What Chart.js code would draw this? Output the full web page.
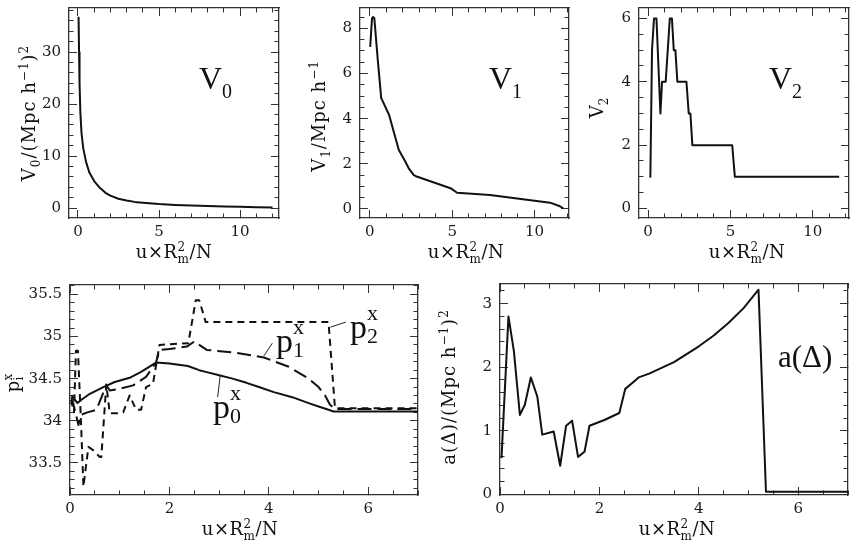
<!DOCTYPE html>
<html><head><meta charset="utf-8">
<script src="https://cdn.jsdelivr.net/npm/chart.js@4"></script>
</head><body style="margin:0;background:#fff">
<div style="position:absolute;left:0;top:0;width:290px;height:275px"><canvas id="c1"></canvas></div>
<div style="position:absolute;left:290px;top:0;width:290px;height:275px"><canvas id="c2"></canvas></div>
<div style="position:absolute;left:580px;top:0;width:279px;height:275px"><canvas id="c3"></canvas></div>
<div style="position:absolute;left:0;top:275px;width:430px;height:270px"><canvas id="c4"></canvas></div>
<div style="position:absolute;left:430px;top:275px;width:429px;height:270px"><canvas id="c5"></canvas></div>
<script>
// ---------------- data ----------------
const v0X = [0.04, 0.07, 0.1, 0.15, 0.22, 0.33, 0.5, 0.7, 1.0, 1.35, 1.7, 2.0, 2.5, 3.0, 3.5, 4.0, 5.0, 6.0, 7.0, 8.0, 9.0, 10.0, 11.0, 12.0];
const v0Y = [36.8, 30, 24, 18.5, 14.5, 11.5, 8.9, 6.9, 5.2, 3.9, 2.95, 2.4, 1.8, 1.45, 1.2, 1.05, 0.8, 0.62, 0.5, 0.4, 0.32, 0.25, 0.18, 0.12];

const v1X = [0.02, 0.13, 0.2, 0.27, 0.48, 0.69, 0.75, 1.17, 1.45, 1.76, 2.16, 2.36, 2.67, 2.8, 4.9, 5.3, 7.3, 9.3, 10.95, 11.55, 11.75];
const v1Y = [7.18, 8.45, 8.5, 8.45, 6.6, 4.9, 4.82, 4.16, 3.42, 2.61, 2.09, 1.8, 1.5, 1.45, 0.92, 0.72, 0.62, 0.43, 0.28, 0.12, 0.03];

const v2X = [0.08, 0.14, 0.24, 0.36, 0.51, 0.75, 0.85, 1.07, 1.32, 1.45, 1.56, 1.66, 1.78, 2.33, 2.47, 2.57, 2.69, 5.11, 5.27, 11.6];
const v2Y = [1, 1, 5, 6, 6, 3, 4, 4, 6, 6, 5, 5, 4, 4, 3, 3, 2, 2, 1, 1];

const p0X = [0.03, 0.15, 0.23, 0.4, 0.67, 0.9, 1.2, 1.43, 1.73, 2.0, 2.37, 2.6, 2.73, 3.0, 3.27, 3.55, 3.8, 4.1, 4.47, 4.8, 5.0, 5.2, 5.3, 7.0];
const p0Y = [34.30, 34.21, 34.25, 34.32, 34.40, 34.46, 34.51, 34.58, 34.69, 34.68, 34.65, 34.60, 34.58, 34.54, 34.50, 34.45, 34.40, 34.34, 34.28, 34.21, 34.17, 34.13, 34.11, 34.11];

const p1X = [0.03, 0.1, 0.17, 0.22, 0.35, 0.53, 0.73, 0.8, 1.0, 1.27, 1.53, 1.73, 1.8, 2.0, 2.35, 2.5, 2.6, 2.75, 3.3, 3.9, 4.4, 4.8, 5.0, 5.13, 5.23, 5.33, 7.0];
const p1Y = [34.28, 34.12, 33.95, 34.07, 34.1, 34.13, 34.42, 34.36, 34.38, 34.42, 34.52, 34.69, 34.84, 34.85, 34.88, 34.94, 34.9, 34.84, 34.81, 34.75, 34.64, 34.5, 34.4, 34.3, 34.19, 34.14, 34.14];

const p2X = [0.02, 0.08, 0.12, 0.16, 0.22, 0.27, 0.37, 0.47, 0.6, 0.63, 0.73, 0.8, 0.97, 1.07, 1.2, 1.33, 1.43, 1.53, 1.67, 1.8, 2.38, 2.53, 2.6, 2.73, 5.2, 5.33, 7.0];
const p2Y = [34.25, 34.1, 34.83, 34.83, 34.0, 33.22, 33.69, 33.65, 33.57, 33.57, 34.43, 34.09, 34.09, 34.1, 34.3, 34.13, 34.13, 34.4, 34.44, 34.9, 34.92, 35.43, 35.43, 35.17, 35.17, 34.15, 34.15];

const aX = [0.03, 0.17, 0.28, 0.4, 0.5, 0.62, 0.75, 0.85, 1.08, 1.21, 1.33, 1.45, 1.57, 1.7, 1.8, 2.1, 2.4, 2.52, 2.79, 3.0, 3.5, 4.0, 4.3, 4.6, 4.9, 5.2, 5.35, 7.0];
const aY = [0.57, 2.8, 2.25, 1.25, 1.41, 1.84, 1.54, 0.94, 0.99, 0.45, 1.08, 1.16, 0.59, 0.67, 1.08, 1.17, 1.28, 1.66, 1.84, 1.9, 2.08, 2.33, 2.5, 2.7, 2.93, 3.22, 0.04, 0.04];

// axis ranges
const topXRange1 = [-0.55, 12.4], topXRange2 = [-0.6, 12.1], topXRange3 = [-0.55, 12.2];
const v0YRange = [-1.9, 38.5], v1YRange = [-0.4, 8.9], v2YRange = [-0.3, 6.33];
const pXRange = [0, 7], pYRange = [33.12, 35.61];
const aXRange = [0, 7], aYRange = [-0.01, 3.31];

// ---------------- helpers ----------------
const SERIF = '"DejaVu Serif", serif';
const TSERIF = '"Liberation Serif", "Times New Roman", serif';
function mkTicks(min, max, step) {
  const out = []; const s = Math.ceil(min / step - 1e-9);
  for (let i = s; i * step <= max + 1e-9; i++) out.push({ value: +(i * step).toFixed(6) });
  return out;
}
function fitter(horiz, size) {
  return s => {
    if (horiz) { s.height = size; s.paddingLeft = 0; s.paddingRight = 0; }
    else { s.width = size; s.paddingTop = 0; s.paddingBottom = 0; }
  };
}
// labelled axis (no tick marks, no border)
function labelAxis(range, major, pos, size, pad) {
  return {
    type: 'linear', position: pos, min: range[0], max: range[1], weight: 0,
    grid: { display: false, drawTicks: false }, border: { display: false },
    afterBuildTicks: s => { s.ticks = mkTicks(range[0], range[1], major); },
    afterFit: fitter(pos === 'bottom' || pos === 'top', size),
    ticks: { autoSkip: false, maxRotation: 0, minRotation: 0, padding: pad, color: '#1a1a1a',
      font: { family: 'DejaVu Serif', size: 15 },
      callback: v => String(+(+v).toFixed(3)) }
  };
}
// zero-size axis drawing inward tick marks (and the frame side when border = true)
function tickAxis(range, step, pos, len, border) {
  return {
    type: 'linear', position: pos, min: range[0], max: range[1], weight: -1,
    grid: { display: true, drawOnChartArea: false, drawTicks: true, tickLength: -len,
            color: '#333', lineWidth: 1 },
    border: { display: border, color: '#333', width: 1.3 },
    ticks: { display: false },
    afterBuildTicks: s => { s.ticks = mkTicks(range[0], range[1], step); },
    afterFit: fitter(pos === 'bottom' || pos === 'top', 0)
  };
}
function scalesFor(xr, xMinor, xMajor, yr, yMinor, yMajor, xSize, ySize) {
  return {
    x: labelAxis(xr, xMajor, 'bottom', xSize, 5),
    y: labelAxis(yr, yMajor, 'left', ySize, 8),
    xb1: tickAxis(xr, xMajor, 'bottom', 8, true),
    xb2: tickAxis(xr, xMinor, 'bottom', 4.5, false),
    xt1: tickAxis(xr, xMajor, 'top', 8, true),
    xt2: tickAxis(xr, xMinor, 'top', 4.5, false),
    yl1: tickAxis(yr, yMajor, 'left', 8, true),
    yl2: tickAxis(yr, yMinor, 'left', 4.5, false),
    yr1: tickAxis(yr, yMajor, 'right', 8, true),
    yr2: tickAxis(yr, yMinor, 'right', 4.5, false)
  };
}
function ds(xs, ys, dash) {
  return {
    data: xs.map((x, i) => ({ x, y: ys[i] })),
    xAxisID: 'x', yAxisID: 'y',
    borderColor: '#111', borderWidth: 2, pointRadius: 0,
    borderDash: dash || [], borderJoinStyle: 'round'
  };
}
function seg(ctx, x1, y1, x2, y2) { ctx.beginPath(); ctx.moveTo(x1, y1); ctx.lineTo(x2, y2); ctx.stroke(); }
function drawRich(ctx, it) {
  const fam = it.fam || SERIF;
  const fontFor = k => (k === 'n' ? it.size : it.ss) + 'px ' + fam;
  let cx = 0, prevStart = 0, prevW = 0; const pos = [];
  ctx.save();
  it.parts.forEach(([t, k, ov]) => {
    ctx.font = fontFor(k);
    const w = ctx.measureText(t).width + (it.ls || 0) * t.length;
    let start;
    if (ov) { start = prevStart; cx = Math.max(prevStart + prevW, start + w); }
    else { start = cx; cx = start + w; }
    pos.push({ t, k, start }); prevStart = start; prevW = w;
  });
  const total = cx;
  ctx.translate(it.x, it.y); if (it.rot) ctx.rotate(it.rot);
  const off = it.align === 'left' ? 0 : -total / 2;
  ctx.fillStyle = '#111'; ctx.textBaseline = 'alphabetic'; ctx.textAlign = 'left';
  pos.forEach(p => {
    ctx.font = fontFor(p.k);
    const dy = p.k === 'sup' ? -it.supOff : p.k === 'sub' ? it.subOff : 0;
    if (it.ls) {
      let xx = off + p.start;
      for (const ch of p.t) { ctx.fillText(ch, xx, dy); xx += ctx.measureText(ch).width + it.ls; }
    } else ctx.fillText(p.t, off + p.start, dy);
  });
  ctx.restore();
}
const decoPlugin = {
  id: 'deco',
  afterDraw(chart, args, opts) {
    const ctx = chart.ctx;
    try {
      (opts.leaders || []).forEach(l => {
        const x1 = chart.scales.x.getPixelForValue(l[0]), y1 = chart.scales.y.getPixelForValue(l[1]);
        const x2 = chart.scales.x.getPixelForValue(l[2]), y2 = chart.scales.y.getPixelForValue(l[3]);
        ctx.save(); ctx.strokeStyle = '#222'; ctx.lineWidth = 1; seg(ctx, x1, y1, x2, y2); ctx.restore();
      });
    } catch (e) {}
    try { (opts.items || []).forEach(it => drawRich(ctx, it)); } catch (e) {}
  }
};
function makeChart(id, datasets, scales, pad, deco) {
  return new Chart(document.getElementById(id), {
    type: 'line',
    data: { datasets },
    options: {
      responsive: true, maintainAspectRatio: false, animation: false,
      layout: { padding: pad },
      scales,
      plugins: { legend: { display: false }, tooltip: { enabled: false }, deco },
      events: []
    },
    plugins: [decoPlugin]
  });
}

const R90 = -Math.PI / 2;
const xTitleParts = [['u×R', 'n'], ['2', 'sup'], ['m', 'sub', true], ['/N', 'n']];
function xTitle(cx, y) {
  return { x: cx, y, size: 18, ss: 12, supOff: 7, subOff: 5, parts: xTitleParts, ls: 0.5 };
}

// ---------------- charts ----------------
makeChart('c1', [ds(v0X, v0Y)],
  scalesFor(topXRange1, 1, 5, v0YRange, 2, 10, 57, 69),
  { left: 0, top: 8, right: 11, bottom: 0 },
  { items: [
    { x: 35, y: 113, rot: R90, size: 18, ss: 12, supOff: 7, subOff: 5, ls: 1,
      parts: [['V', 'n'], ['0', 'sub'], ['/(Mpc h', 'n'], ['−1', 'sup'], [')', 'n'], ['2', 'sup']] },
    xTitle(174, 258),
    { x: 199, y: 89, size: 32, ss: 20, supOff: 12, subOff: 9, align: 'left', fam: TSERIF,
      parts: [['V', 'n'], ['0', 'sub']] }
  ] });

makeChart('c2', [ds(v1X, v1Y)],
  scalesFor(topXRange2, 1, 5, v1YRange, 0.5, 2, 57, 70),
  { left: 0, top: 8, right: 11, bottom: 0 },
  { items: [
    { x: 35, y: 116, rot: R90, size: 18, ss: 12, supOff: 7, subOff: 5, ls: 1,
      parts: [['V', 'n'], ['1', 'sub'], ['/Mpc h', 'n'], ['−1', 'sup']] },
    xTitle(176, 258),
    { x: 199, y: 89, size: 32, ss: 20, supOff: 12, subOff: 9, align: 'left', fam: TSERIF,
      parts: [['V', 'n'], ['1', 'sub']] }
  ] });

makeChart('c3', [ds(v2X, v2Y)],
  scalesFor(topXRange3, 1, 5, v2YRange, 0.5, 2, 57, 59),
  { left: 0, top: 8, right: 10, bottom: 0 },
  { items: [
    { x: 23, y: 108, rot: R90, size: 18, ss: 12, supOff: 7, subOff: 5,
      parts: [['V', 'n'], ['2', 'sub']] },
    xTitle(167, 258),
    { x: 189, y: 89, size: 32, ss: 20, supOff: 12, subOff: 9, align: 'left', fam: TSERIF,
      parts: [['V', 'n'], ['2', 'sub']] }
  ] });

makeChart('c4', [ds(p0X, p0Y), ds(p1X, p1Y, [14, 6]), ds(p2X, p2Y, [7, 5])],
  scalesFor(pXRange, 0.5, 2, pYRange, 0.1, 0.5, 50, 70),
  { left: 0, top: 10, right: 12, bottom: 0 },
  { leaders: [[3.02, 34.53, 2.97, 34.28], [3.9, 34.77, 4.07, 34.92], [5.24, 35.11, 5.55, 35.17]],
    items: [
    { x: 19, y: 108, rot: R90, size: 18, ss: 12, supOff: 7, subOff: 4,
      parts: [['p', 'n'], ['x', 'sup'], ['i', 'sub', true]] },
    xTitle(240, 260),
    { x: 213, y: 143, size: 34, ss: 22, supOff: 18, subOff: 5, align: 'left', fam: TSERIF,
      parts: [['p', 'n'], ['x', 'sup'], ['0', 'sub', true]] },
    { x: 276, y: 77, size: 34, ss: 22, supOff: 18, subOff: 5, align: 'left', fam: TSERIF,
      parts: [['p', 'n'], ['x', 'sup'], ['1', 'sub', true]] },
    { x: 350, y: 63, size: 34, ss: 22, supOff: 18, subOff: 5, align: 'left', fam: TSERIF,
      parts: [['p', 'n'], ['x', 'sup'], ['2', 'sub', true]] }
  ] });

makeChart('c5', [ds(aX, aY)],
  scalesFor(aXRange, 0.5, 2, aYRange, 0.2, 1, 50, 70),
  { left: 0, top: 9, right: 11, bottom: 0 },
  { items: [
    { x: 25, y: 112, rot: R90, size: 18, ss: 12, supOff: 7, subOff: 5, ls: 1,
      parts: [['a(Δ)/(Mpc h', 'n'], ['−1', 'sup'], [')', 'n'], ['2', 'sup']] },
    xTitle(247, 260),
    { x: 348, y: 92, size: 31, ss: 20, supOff: 12, subOff: 9, align: 'left', fam: TSERIF,
      parts: [['a(Δ)', 'n']] }
  ] });
</script>
</body></html>
